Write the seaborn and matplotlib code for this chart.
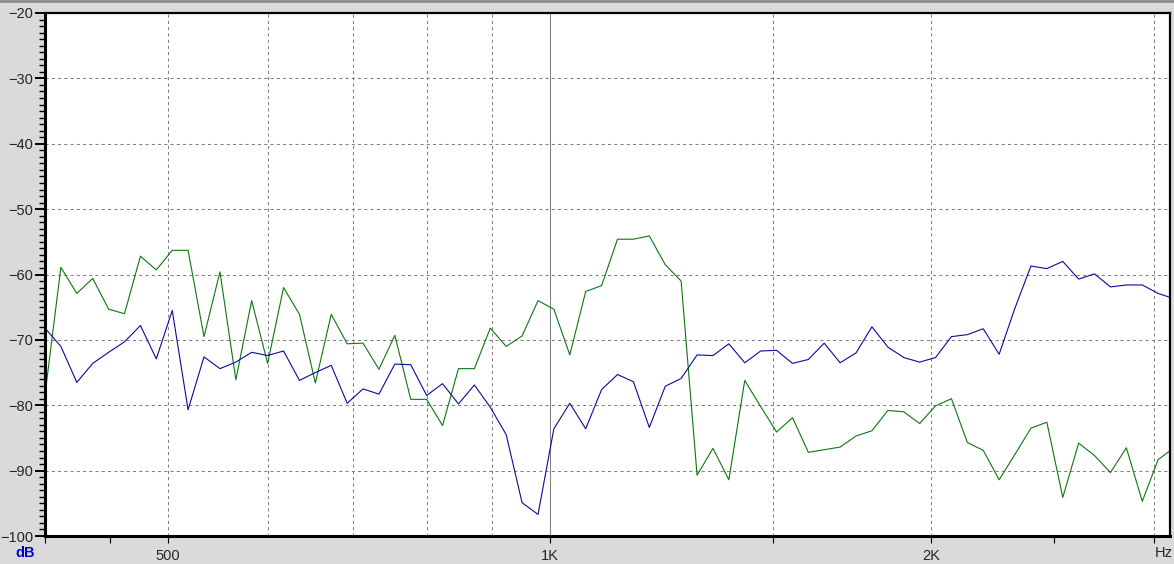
"""
plot.py

Two-channel spectrum (dB vs Hz) on a log frequency axis, drawn in the style
of an old audio analyser window.
"""

import pandas as pd
import matplotlib
matplotlib.use("Agg")
import matplotlib.pyplot as plt
from matplotlib.ticker import FixedLocator, NullLocator, MultipleLocator
from matplotlib.lines import Line2D
import seaborn as sns


# ========== DATA ========== #

# 1/24-octave bins starting at 400 Hz
FREQ_HZ = [
    400.0, 411.7, 423.8, 436.2, 449.0, 462.1, 475.7, 489.6, 504.0, 518.7,
    533.9, 549.6, 565.7, 582.2, 599.3, 616.9, 635.0, 653.6, 672.7, 692.5,
    712.7, 733.6, 755.1, 777.2, 800.0, 823.4, 847.6, 872.4, 898.0, 924.3,
    951.4, 979.3, 1007.9, 1037.5, 1067.9, 1099.2, 1131.4, 1164.6, 1198.7, 1233.9,
    1270.0, 1307.3, 1345.6, 1385.0, 1425.6, 1467.4, 1510.4, 1554.7, 1600.0, 1646.8,
    1695.1, 1744.8, 1795.9, 1848.6, 1902.8, 1958.5, 2015.9, 2075.0, 2135.8, 2198.4,
    2262.7, 2329.0, 2397.3, 2467.5, 2539.9, 2614.3, 2690.9, 2769.8, 2850.9, 2934.5,
    3020.5, 3109.0,
]

BLUE_DB = [
    -68.2, -71.0, -76.5, -73.6, -71.9, -70.3, -67.8, -72.9, -65.5, -80.7,
    -72.6, -74.4, -73.4, -71.9, -72.4, -71.7, -76.2, -75.0, -73.9, -79.7,
    -77.5, -78.3, -73.7, -73.8, -78.5, -76.7, -79.8, -76.9, -80.3, -84.5,
    -94.9, -96.7, -83.6, -79.7, -83.6, -77.6, -75.3, -76.4, -83.4, -77.1,
    -75.9, -72.3, -72.4, -70.6, -73.5, -71.7, -71.6, -73.6, -73.0, -70.5,
    -73.5, -72.0, -68.0, -71.1, -72.7, -73.4, -72.7, -69.5, -69.2, -68.3,
    -72.2, -65.1, -58.7, -59.1, -58.0, -60.7, -59.9, -61.9, -61.6, -61.6,
    -62.9, -63.7,
]

GREEN_DB = [
    -78.4, -58.9, -62.9, -60.6, -65.3, -66.0, -57.2, -59.3, -56.3, -56.3,
    -69.5, -59.6, -76.1, -64.0, -73.6, -62.0, -66.1, -76.6, -66.1, -70.6,
    -70.5, -74.5, -69.3, -79.1, -79.1, -83.1, -74.4, -74.4, -68.2, -71.0,
    -69.4, -64.0, -65.3, -72.3, -62.6, -61.7, -54.6, -54.6, -54.1, -58.5,
    -61.0, -90.7, -86.6, -91.4, -76.2, -80.2, -84.1, -81.9, -87.2, -86.8,
    -86.4, -84.7, -83.9, -80.8, -81.0, -82.8, -80.1, -79.0, -85.7, -86.9,
    -91.4, -87.5, -83.5, -82.6, -94.1, -85.8, -87.7, -90.3, -86.5, -94.7,
    -88.3, -86.5,
]

X_TICKS = [400, 450, 500, 1000, 1500, 2000, 2500, 3000]
X_TICK_LABELS = ["", "", "500", "1K", "", "2K", "", ""]
GRID_FREQS = [500, 600, 700, 800, 900, 1500, 2000, 3000]
Y_GRID = [-30, -40, -50, -60, -70, -80, -90]

COLORS = {"green": "#0c780c", "blue": "#0a0a9c"}


# ========== PLOT ========== #

def main():
    sns.set_style("ticks")
    plt.rcParams["font.family"] = ["Liberation Sans", "DejaVu Sans"]

    df = pd.concat([
        pd.DataFrame({"freq": FREQ_HZ, "db": GREEN_DB, "ch": "green"}),
        pd.DataFrame({"freq": FREQ_HZ, "db": BLUE_DB, "ch": "blue"}),
    ])

    fig = plt.figure(figsize=(11.74, 5.64), dpi=100, facecolor="#dadada")
    ax = fig.add_axes([45 / 1174, 28 / 564, 1125 / 1174, 523 / 564])
    ax.set_facecolor("white")

    # grid first so the traces sit on top
    for f in GRID_FREQS:
        ax.axvline(f, color="#808080", lw=0.75, ls=(0, (3, 3)), zorder=0)
    ax.axvline(1000, color="#808080", lw=0.75, zorder=0)
    for y in Y_GRID:
        ax.axhline(y, color="#808080", lw=0.75, ls=(0, (3, 3)), zorder=0)

    sns.lineplot(data=df, x="freq", y="db", hue="ch", palette=COLORS,
                 linewidth=0.8, sort=False, legend=False, ax=ax)

    ax.set_xscale("log")
    ax.set_xlim(400, 3086)
    ax.set_ylim(-100, -20)

    ax.xaxis.set_major_locator(FixedLocator(X_TICKS))
    ax.xaxis.set_minor_locator(NullLocator())
    ax.set_xticklabels(X_TICK_LABELS)
    ax.yaxis.set_major_locator(MultipleLocator(10))
    ax.yaxis.set_minor_locator(MultipleLocator(1))

    ax.tick_params(axis="x", which="major", length=5, width=0.8, pad=4,
                   labelsize=10.5, color="black")
    ax.tick_params(axis="y", which="major", length=7.5, width=1.4, pad=1,
                   labelsize=10.5, color="black")
    ax.tick_params(axis="y", which="minor", length=4, width=1.0, color="black")

    ax.set_xlabel("")
    ax.set_ylabel("")

    for side in ["left", "bottom"]:
        ax.spines[side].set_linewidth(2.2)
    for side in ["top", "right"]:
        ax.spines[side].set_linewidth(1.6)
    for sp in ax.spines.values():
        sp.set_color("black")
        sp.set_visible(True)

    # unit labels
    ax.text(3000, -0.033, "Hz", transform=ax.get_xaxis_transform(),
            ha="left", va="center", fontsize=10.5)
    fig.text(25 / 1174, 1 - 553 / 564, "dB", color="#0000c8",
             fontweight="bold", ha="center", va="center", fontsize=10.5)

    # window border at the top
    fig.add_artist(Line2D([0, 1], [1 - 1 / 564, 1 - 1 / 564],
                          color="#8c8c8c", lw=2, transform=fig.transFigure))

    fig.savefig("out.png", dpi=100, facecolor=fig.get_facecolor())
    plt.close(fig)


if __name__ == "__main__":
    main()
